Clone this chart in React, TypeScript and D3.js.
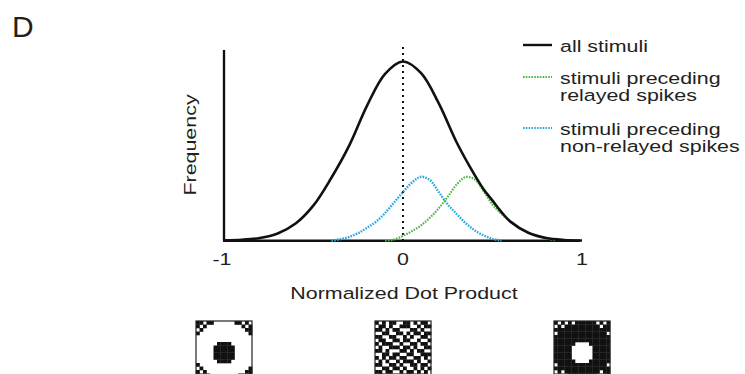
import React from "react";
import * as d3 from "d3";

// ---------- data ----------
const allX = [-1, -0.9, -0.8, -0.7, -0.6, -0.5, -0.4, -0.3, -0.2, -0.1, 0, 0.1, 0.2, 0.3, 0.4, 0.45, 0.5, 0.55, 0.6, 0.7, 0.8, 0.9, 1.0];
const allY = [0.002, 0.005, 0.014, 0.038, 0.09, 0.185, 0.33, 0.5, 0.71, 0.875, 0.94, 0.88, 0.72, 0.515, 0.345, 0.27, 0.21, 0.15, 0.1, 0.042, 0.014, 0.004, 0.001];

const relX = [-0.1, -0.05, 0, 0.05, 0.1, 0.15, 0.2, 0.25, 0.3, 0.35, 0.4, 0.45, 0.5, 0.55, 0.6, 0.65, 0.7, 0.75, 0.8, 0.85];
const relY = [0.0, 0.006, 0.025, 0.05, 0.08, 0.12, 0.17, 0.23, 0.295, 0.334, 0.322, 0.26, 0.19, 0.14, 0.1, 0.066, 0.042, 0.025, 0.012, 0.003];

const nonX = [-0.4, -0.35, -0.3, -0.25, -0.2, -0.15, -0.1, -0.05, 0, 0.05, 0.1, 0.15, 0.2, 0.25, 0.3, 0.35, 0.4, 0.45, 0.5, 0.55];
const nonY = [0.0, 0.008, 0.02, 0.04, 0.068, 0.1, 0.145, 0.2, 0.255, 0.305, 0.335, 0.318, 0.255, 0.19, 0.14, 0.092, 0.055, 0.028, 0.01, 0.0];

const xTicks = [-1, 0, 1];
const legendLabels = [["all stimuli"], ["stimuli preceding", "relayed spikes"], ["stimuli preceding", "non-relayed spikes"]];

const tile1 = [
  "1101100000011010",
  "1010000000000101",
  "0100000000000011",
  "1000000000000001",
  "0000000000000000",
  "0000000000000000",
  "0000001111000000",
  "0000011111100000",
  "0000011111100000",
  "0000011111100000",
  "0000011111100000",
  "0000001111000000",
  "1000000000000000",
  "0100000000000001",
  "1010000000000011",
  "1101000000001101",
];
const tile2 = [
  "1010110011010110",
  "0110100111001011",
  "1101011000110100",
  "0011001101011011",
  "1100110010100110",
  "0110011011001001",
  "1011100100110110",
  "0100111011010011",
  "1101000110101100",
  "0011011001100111",
  "1010110110011010",
  "0101001011101001",
  "1100110100110110",
  "0011011010010101",
  "1101100101101010",
  "0110011011010110",
];
const tile3 = [
  "1010101111110101",
  "0101111111111011",
  "1111111111111111",
  "0111111111111110",
  "1111111111111111",
  "1111111111111111",
  "1111110000111111",
  "1111100000011111",
  "1111100000011111",
  "1111100000011111",
  "1111100000011111",
  "1111110000111111",
  "0111111111111110",
  "1111111111111111",
  "0101111111111011",
  "1010111111110101",
];
const tiles = [tile1, tile2, tile3];

// ---------- layout ----------
const W = 745, H = 374;
const FONT = "'Liberation Sans', Arial, Helvetica, sans-serif";
const SX = 1.26;
const FS = 17;
const GREEN = "#4db848";
const BLUE = "#2ba6de";

const x = d3.scaleLinear().domain([-1, 1]).range([224, 582]);
const y = d3.scaleLinear().domain([0, 1]).range([240.7, 50]);

const line = (xs: number[], ys: number[]) =>
  d3.line<number>().x((_, i) => x(xs[i])).y((d) => y(d)).curve(d3.curveCatmullRom.alpha(0.5))(ys) || "";

const SText = ({ tx, ty, anchor = "start", rotate = 0, children }: any) => (
  <g transform={`translate(${tx},${ty}) rotate(${rotate}) scale(${SX},1)`}>
    <text textAnchor={anchor} fontSize={FS} fill="#231f20" fontFamily={FONT}>{children}</text>
  </g>
);

const Tile = ({ data, cx, top }: { data: string[]; cx: number; top: number }) => {
  const n = data.length;
  const size = 56;
  const c = d3.scaleLinear().domain([0, n]).range([0, size]);
  return (
    <g transform={`translate(${cx - size / 2},${top})`}>
      <rect x={0} y={0} width={size} height={size} fill="#fff" />
      {data.map((row, r) =>
        row.split("").map((v, k) =>
          v === "1" ? (
            <rect key={`${r}-${k}`} x={c(k)} y={c(r)} width={c(1) + 0.3} height={c(1) + 0.3} fill="#111" />
          ) : null
        )
      )}
      <rect x={0} y={0} width={size} height={size} fill="none" stroke="#222" strokeWidth={1.2} />
    </g>
  );
};

export default function App() {
  return (
    <svg width={W} height={H} style={{ position: "absolute", left: 0, top: 0, background: "#fff" }}>
      <text x={12} y={37} fontSize={30} fontFamily={FONT} fill="#231f20">D</text>

      {/* axes */}
      <line x1={x(-1)} x2={x(-1)} y1={50} y2={y(0)} stroke="#111" strokeWidth={2.4} />
      <line x1={x(-1) - 1} x2={580} y1={y(0)} y2={y(0)} stroke="#111" strokeWidth={2.4} />

      {/* dotted zero line */}
      <line x1={x(0)} x2={x(0)} y1={47} y2={y(0)} stroke="#111" strokeWidth={2} strokeDasharray="2 4" />

      {/* curves */}
      <path d={line(nonX, nonY)} fill="none" stroke={BLUE} strokeWidth={2.4} strokeDasharray="1.6 1.2" />
      <path d={line(relX, relY)} fill="none" stroke={GREEN} strokeWidth={2.2} strokeDasharray="1.6 1.2" />
      <path d={line(allX, allY)} fill="none" stroke="#111" strokeWidth={2.6} />

      {/* tick labels */}
      {xTicks.map((t) => (
        <SText key={t} tx={x(t) + (t < 0 ? -2 : 0)} ty={265} anchor="middle">{t}</SText>
      ))}
      <SText tx={404} ty={299} anchor="middle">Normalized Dot Product</SText>
      <SText tx={196} ty={145} anchor="middle" rotate={-90}>Frequency</SText>

      {/* legend */}
      <line x1={523} x2={552} y1={45} y2={45} stroke="#111" strokeWidth={2.4} />
      <line x1={523} x2={552} y1={77} y2={77} stroke={GREEN} strokeWidth={2.2} strokeDasharray="1.6 1.2" />
      <line x1={523} x2={552} y1={128} y2={128} stroke={BLUE} strokeWidth={2.2} strokeDasharray="1.6 1.2" />
      {legendLabels.map((lines, i) =>
        lines.map((s, j) => (
          <SText key={`${i}-${j}`} tx={560} ty={[51.5, 84, 135][i] + j * 17}>{s}</SText>
        ))
      )}

      {/* stimulus tiles */}
      {tiles.map((t, i) => (
        <Tile key={i} data={t} cx={x(xTicks[i])} top={321} />
      ))}
    </svg>
  );
}
